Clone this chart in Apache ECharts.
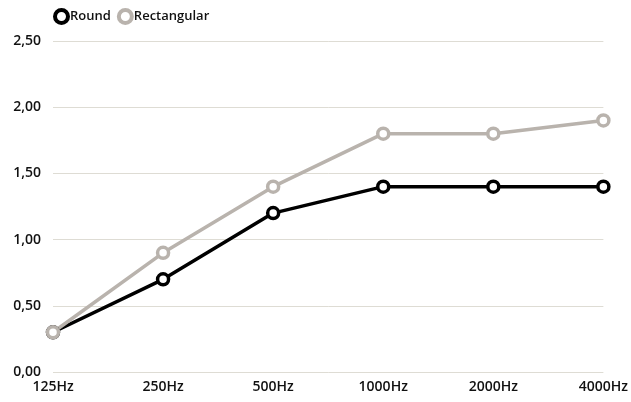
<!DOCTYPE html>
<html>
<head>
<meta charset="utf-8">
<script src="https://cdn.jsdelivr.net/npm/echarts@6/dist/echarts.min.js"></script>
<style>
  html, body { margin: 0; padding: 0; background: #fff; }
  #chart { width: 631px; height: 402px; }
</style>
</head>
<body>
<div id="chart"></div>
<script>
const categories = ["125Hz", "250Hz", "500Hz", "1000Hz", "2000Hz", "4000Hz"];
const roundValues = [0.3, 0.7, 1.2, 1.4, 1.4, 1.4];
const rectValues = [0.3, 0.9, 1.4, 1.8, 1.8, 1.9];

const fontFamily = "'Open Sans', 'DejaVu Sans', sans-serif";
const chart = echarts.init(document.getElementById("chart"));

const makeSeries = (name, data, color) => ({
  name: name,
  type: "line",
  data: data,
  symbol: "circle",
  symbolSize: 11,
  lineStyle: { color: color, width: 3.5 },
  itemStyle: { color: "#fff", borderColor: color, borderWidth: 3.5 },
});

chart.setOption({
  animation: false,
  textStyle: { fontFamily: fontFamily },
  legend: {
    left: 48,
    top: 3,
    itemGap: 6,
    itemWidth: 13,
    itemHeight: 13,
    icon: "circle",
    textStyle: { fontSize: 13, fontWeight: 600, color: "#111", padding: [0, 0, 0, -3] },
    data: [
      { name: "Round", itemStyle: { color: "#fff", borderColor: "#000", borderWidth: 4 } },
      { name: "Rectangular", itemStyle: { color: "#fff", borderColor: "#b9b3ad", borderWidth: 4 } },
    ],
  },
  grid: { left: 53, right: 26, top: 41, bottom: 30, containLabel: false },
  xAxis: {
    type: "category",
    data: categories,
    boundaryGap: false,
    axisLine: { show: false },
    axisTick: { show: false },
    axisLabel: { color: "#111", fontSize: 14, fontWeight: 600, margin: 8 },
  },
  yAxis: {
    type: "value",
    min: 0,
    max: 2.5,
    interval: 0.5,
    axisLine: { show: false },
    axisTick: { show: false },
    splitLine: { lineStyle: { color: "#dedcd4", width: 1 } },
    axisLabel: {
      color: "#111",
      fontSize: 14,
      fontWeight: 600,
      margin: 12,
      formatter: (v) => v.toFixed(2).replace(".", ","),
    },
  },
  series: [
    makeSeries("Round", roundValues, "#000"),
    makeSeries("Rectangular", rectValues, "#b9b3ad"),
  ],
});
</script>
</body>
</html>
